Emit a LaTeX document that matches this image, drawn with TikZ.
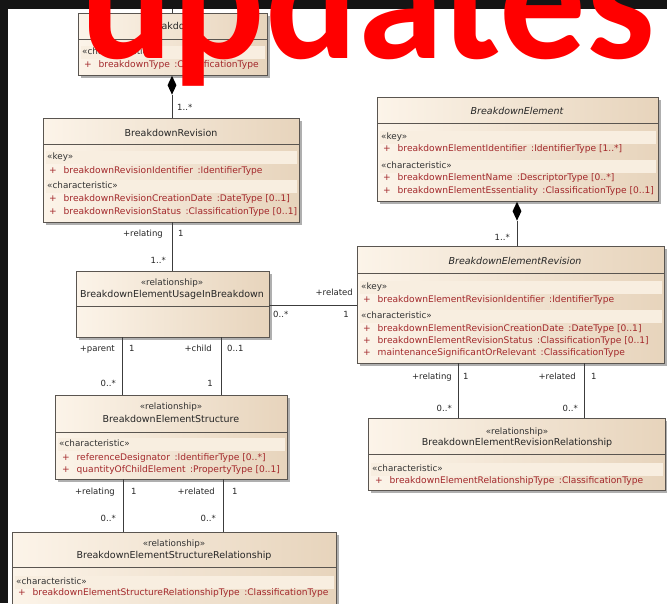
\documentclass[tikz,border=0pt]{standalone}
\usepackage{fontspec}
\setmainfont{DejaVu Sans}
\newfontfamily\bannerfont{Carlito}
\usetikzlibrary{shapes.geometric,shadows}

\definecolor{creamL}{HTML}{FCF4E9}
\definecolor{creamR}{HTML}{E7D4BC}
\definecolor{bandc}{HTML}{F8EEE0}
\definecolor{boxline}{HTML}{5A5550}
\definecolor{connc}{HTML}{3C3C3C}
\definecolor{attrc}{HTML}{A3282B}
\definecolor{shadowc}{HTML}{9C9C9C}
\definecolor{framec}{HTML}{151515}

\newcommand\typesep{\hspace{4.5pt}}
\newcounter{txt}

\tikzset{
  classbox/.style={draw=boxline, line width=0.8pt, left color=creamL, right color=creamR,
    inner sep=0pt, outer sep=0pt, anchor=north west,
    drop shadow={shadow xshift=3pt, shadow yshift=-3pt, fill=shadowc, opacity=0.8}},
  sepline/.style={draw=boxline, line width=0.8pt},
  conn/.style={draw=connc, line width=0.8pt},
  title/.style={inner sep=0pt, font=\fontsize{9.5}{11}\selectfont, text=black!85},
  ititle/.style={title, font=\fontsize{9.5}{11}\selectfont\itshape},
  stereo/.style={inner sep=0pt, font=\fontsize{8.8}{10}\selectfont, text=black!80},
  attr/.style={inner sep=0pt, font=\fontsize{9.1}{10}\selectfont, text=attrc},
  mult/.style={inner sep=0pt, font=\fontsize{8.5}{10}\selectfont, text=black!85},
  comp/.style={shape=diamond, fill=black, inner sep=0pt, minimum width=9pt, minimum height=19pt, anchor=north},
}

% class box: name, left, top, right, bottom, compartment line
\newcommand\umlbox[6]{%
  \node[classbox, minimum width={#4-#2}, minimum height={#5-#3}] (#1) at (#2,#3) {};
  \draw[sepline] (#2,#6) -- (#4,#6);}
% stereotype group header: box, left, right, y, text
\newcommand\grouphead[5]{%
  \fill[bandc] (#2+2.5,#4-6.5) rectangle (#3-2.5,#4+6.5);
  \stepcounter{txt}\node[stereo, anchor=mid west] (t\arabic{txt}) at (#2+4,#4) {#5};}
% attribute line: x, y, text
\newcommand\attrline[3]{%
  \stepcounter{txt}\node[attr, anchor=mid west] (t\arabic{txt}) at (#1,#2) {\makebox[14.5pt][l]{+}#3};}

\begin{document}
\begin{tikzpicture}[x=1pt,y=-1pt]
\clip (0,0) rectangle (667,603);
\fill[framec] (0,0) rectangle (667,603);
\fill[white] (8,9) rectangle (667,603);

% ---------- Breakdown ----------
\umlbox{bd}{78}{13}{267}{75}{39}
\node[title] (bdT) at (172,26) {Breakdown};
\grouphead{bd}{78}{267}{52}{«characteristic»}
\attrline{84}{65}{breakdownType\typesep:ClassificationType}

% ---------- BreakdownRevision ----------
\umlbox{br}{43}{118}{299}{222}{144}
\node[title] (brT) at (171,133) {BreakdownRevision};
\grouphead{br}{43}{299}{157}{«key»}
\attrline{49}{171}{breakdownRevisionIdentifier\typesep:IdentifierType}
\grouphead{br}{43}{299}{186}{«characteristic»}
\attrline{49}{199}{breakdownRevisionCreationDate\typesep:DateType [0..1]}
\attrline{49}{212}{breakdownRevisionStatus\typesep:ClassificationType [0..1]}

% ---------- BreakdownElement ----------
\umlbox{be}{377}{97}{658}{201}{123}
\node[ititle] (beT) at (517,111) {BreakdownElement};
\grouphead{be}{377}{658}{137}{«key»}
\attrline{383}{149}{breakdownElementIdentifier\typesep:IdentifierType [1..*]}
\grouphead{be}{377}{658}{166}{«characteristic»}
\attrline{383}{178}{breakdownElementName\typesep:DescriptorType [0..*]}
\attrline{383}{191}{breakdownElementEssentiality\typesep:ClassificationType [0..1]}

% ---------- BreakdownElementUsageInBreakdown ----------
\umlbox{beu}{76}{271}{269}{337}{306}
\node[stereo] (beuS) at (172,283) {«relationship»};
\node[title] (beuT) at (172,295) {BreakdownElementUsageInBreakdown};

% ---------- BreakdownElementRevision ----------
\umlbox{ber}{357}{246}{664}{363}{273}
\node[ititle] (berT) at (515,261) {BreakdownElementRevision};
\grouphead{ber}{357}{664}{287}{«key»}
\attrline{363}{300}{breakdownElementRevisionIdentifier\typesep:IdentifierType}
\grouphead{ber}{357}{664}{316}{«characteristic»}
\attrline{363}{329}{breakdownElementRevisionCreationDate\typesep:DateType [0..1]}
\attrline{363}{341}{breakdownElementRevisionStatus\typesep:ClassificationType [0..1]}
\attrline{363}{353}{maintenanceSignificantOrRelevant\typesep:ClassificationType}

% ---------- BreakdownElementStructure ----------
\umlbox{bes}{55}{395}{287}{479}{432}
\node[stereo] (besS) at (171,407) {«relationship»};
\node[title] (besT) at (171,419) {BreakdownElementStructure};
\grouphead{bes}{55}{287}{444}{«characteristic»}
\attrline{62}{458}{referenceDesignator\typesep:IdentifierType [0..*]}
\attrline{62}{470}{quantityOfChildElement\typesep:PropertyType [0..1]}

% ---------- BreakdownElementRevisionRelationship ----------
\umlbox{berr}{368}{418}{665}{490}{454}
\node[stereo] (berrS) at (517,432) {«relationship»};
\node[title] (berrT) at (517,443) {BreakdownElementRevisionRelationship};
\grouphead{berr}{368}{665}{469}{«characteristic»}
\attrline{375}{481}{breakdownElementRelationshipType\typesep:ClassificationType}

% ---------- BreakdownElementStructureRelationship ----------
\umlbox{besr}{12}{532}{336}{612}{567}
\node[stereo] (besrS) at (174,544) {«relationship»};
\node[title] (besrT) at (174,556) {BreakdownElementStructureRelationship};
\grouphead{besr}{12}{336}{582}{«characteristic»}
\attrline{18}{593}{breakdownElementStructureRelationshipType\typesep:ClassificationType}

% ---------- connectors ----------
\coordinate (bdup) at (172,9);
\draw[conn] (bdup) -- (bdup |- bd.north);

\node[comp] (dm1) at (172,75.5) {};
\draw[conn] (dm1.south) -- (dm1.south |- br.north);
\node[mult, anchor=mid west] (m1) at (177,108) {1..*};

\node[comp] (dm2) at (517,201.5) {};
\draw[conn] (dm2.south) -- (dm2.south |- ber.north);
\node[mult, anchor=mid east] (m2) at (510,238) {1..*};

\draw[conn] (br.south -| 172,0) -- (beu.north -| 172,0);
\node[mult, anchor=mid east] (m3) at (163,234) {+relating};
\node[mult, anchor=mid west] (m4) at (178,234) {1};
\node[mult, anchor=mid east] (m5) at (166,261) {1..*};

\draw[conn] (beu.east |- 0,305) -- (ber.west |- 0,305);
\node[mult, anchor=mid east] (m6) at (353,293) {+related};
\node[mult, anchor=mid west] (m7) at (273,315) {0..*};
\node[mult, anchor=mid east] (m8) at (349,315) {1};

\draw[conn] (beu.south -| 122,0) -- (bes.north -| 122,0);
\draw[conn] (beu.south -| 221,0) -- (bes.north -| 221,0);
\node[mult, anchor=mid east] (m9) at (115,349) {+parent};
\node[mult, anchor=mid west] (m10) at (129,349) {1};
\node[mult, anchor=mid east] (m11) at (212,349) {+child};
\node[mult, anchor=mid west] (m12) at (227,349) {0..1};
\node[mult, anchor=mid east] (m13) at (116,384) {0..*};
\node[mult, anchor=mid east] (m14) at (213,384) {1};

\draw[conn] (ber.south -| 458,0) -- (berr.north -| 458,0);
\draw[conn] (ber.south -| 584,0) -- (berr.north -| 584,0);
\node[mult, anchor=mid east] (m15) at (452,377) {+relating};
\node[mult, anchor=mid west] (m16) at (463,377) {1};
\node[mult, anchor=mid east] (m17) at (576,377) {+related};
\node[mult, anchor=mid west] (m18) at (591,377) {1};
\node[mult, anchor=mid east] (m19) at (452,409) {0..*};
\node[mult, anchor=mid east] (m20) at (578,409) {0..*};

\draw[conn] (bes.south -| 123,0) -- (besr.north -| 123,0);
\draw[conn] (bes.south -| 223,0) -- (besr.north -| 223,0);
\node[mult, anchor=mid east] (m21) at (115,492) {+relating};
\node[mult, anchor=mid west] (m22) at (131,492) {1};
\node[mult, anchor=mid east] (m23) at (215,492) {+related};
\node[mult, anchor=mid west] (m24) at (232,492) {1};
\node[mult, anchor=mid east] (m25) at (116,519) {0..*};
\node[mult, anchor=mid east] (m26) at (216,519) {0..*};

% ---------- banner ----------
\node[anchor=base west, inner sep=0pt, text=red, xscale=0.975,
      font=\bannerfont\bfseries\fontsize{177}{177}\selectfont] (banner) at (80,58) {updates};
\end{tikzpicture}
\end{document}
